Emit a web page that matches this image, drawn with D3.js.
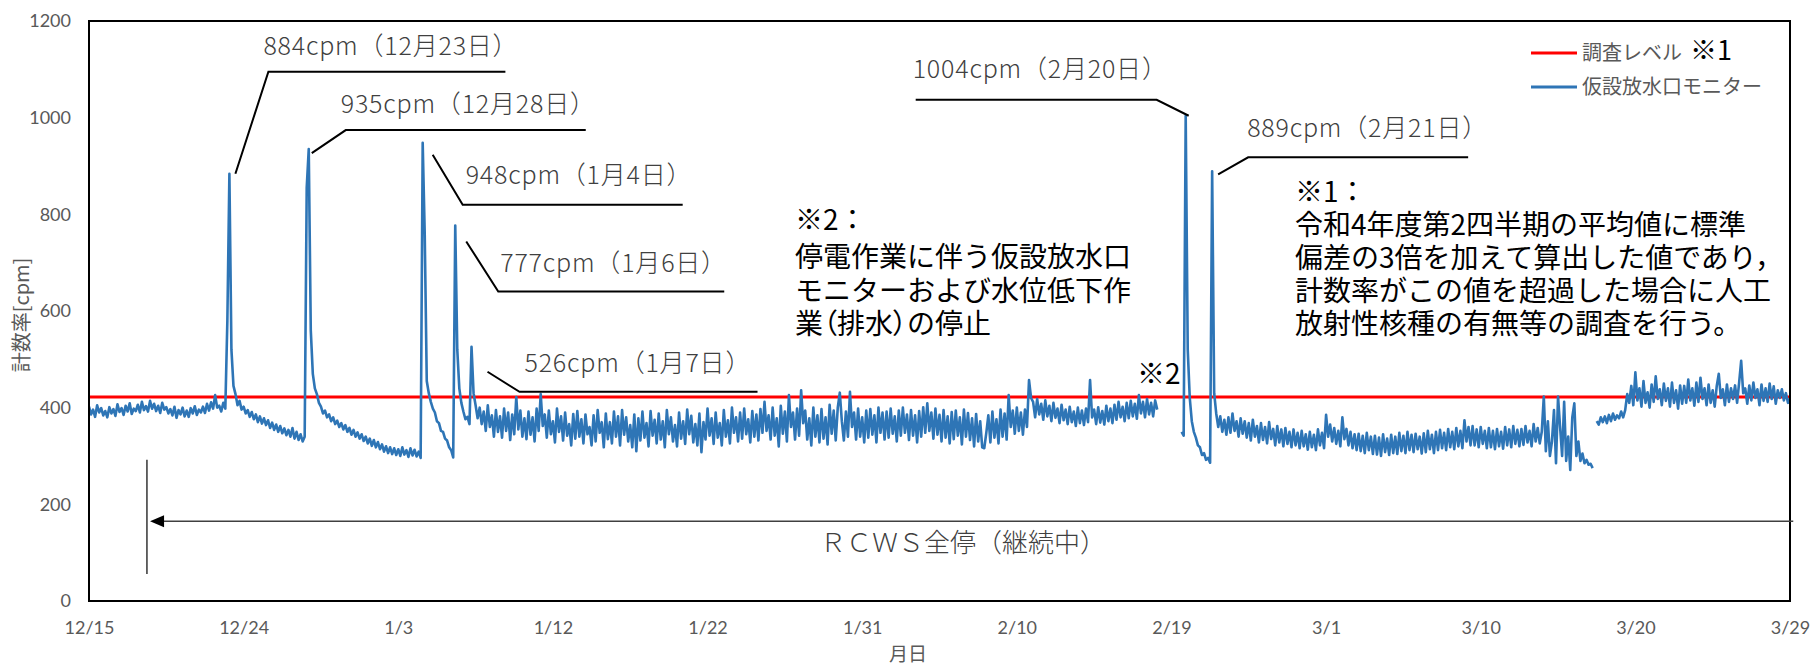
<!DOCTYPE html>
<html lang="ja">
<head>
<meta charset="utf-8">
<script src="https://cdn.jsdelivr.net/npm/d3@7"></script>
<style>
  html, body { margin: 0; padding: 0; background: #fff; }
  svg { display: block; }
  .palt { font-feature-settings: "palt" 1; }
</style>
</head>
<body>
<svg id="chart" width="1812" height="668"></svg>
<script>
// ---- data ---------------------------------------------------------------
const seriesName = "仮設放水口モニター";
const levelName = "調査レベル";
const levelNote = "※1";
const investigationLevel = 422;            // cpm
const startDate = Date.UTC(2022, 11, 15);  // 12/15 00:00
const sampleHours = 3;                     // spacing of monitorCpm samples

// counting rate of the temporary outlet monitor, 8 samples per day (null = no data)
const monitorCpm = [
  402, 386, 396, 381, 405, 390, 399, 384,   // 12/15
  393, 380, 401, 388, 397, 383, 407, 391,
  399, 385, 404, 392, 409, 387, 398, 393,
  406, 390, 412, 395, 403, 392, 414, 398,
  408, 393, 404, 389, 410, 396, 401, 388,
  397, 384, 402, 379, 395, 386, 400, 382,   // 12/20
  394, 381, 399, 388, 403, 385, 396, 390,
  402, 389, 408, 394, 411, 398, 426, 400,
  404, 392, 410, 398, 580, 884, 520, 445,   // 12/23
  428, 405, 414, 396, 402, 388, 395, 381,
  391, 376, 386, 370, 382, 367, 378, 364,   // 12/25
  374, 358, 369, 354, 365, 350, 362, 347,
  357, 343, 354, 340, 358, 336, 350, 333,
  345, 330, 340, 855, 935, 560, 470, 440,   // 12/28
  428, 410, 402, 388, 394, 380, 386, 372,
  380, 366, 373, 360, 368, 355, 364, 350,   // 12/30
  358, 344, 354, 340, 349, 336, 345, 331,
  340, 326, 336, 321, 333, 318, 329, 314,   // 1/1
  324, 309, 320, 306, 318, 304, 316, 302,
  314, 300, 318, 303, 312, 298, 316, 301,
  313, 299, 309, 296, 948, 760, 455, 430,   // 1/4
  412, 398, 390, 372, 368, 352, 350, 336,
  332, 318, 312, 297, 777, 520, 440, 410,   // 1/6
  392, 376, 381, 366, 526, 430, 405, 378,   // 1/7
  400, 366, 392, 352, 405, 360, 384, 340,
  395, 350, 382, 338, 398, 352, 390, 333,
  386, 345, 422, 355, 394, 340, 378, 335,   // 1/10
  392, 344, 380, 330, 398, 352, 428, 362,
  386, 338, 394, 345, 372, 328, 398, 350,
  382, 332, 390, 342, 366, 322, 387, 336,
  393, 340, 376, 326, 386, 345, 360, 322,
  384, 330, 395, 348, 370, 318, 388, 335,   // 1/15
  370, 326, 392, 340, 382, 322, 395, 344,
  380, 330, 364, 318, 386, 310, 378, 332,
  392, 338, 368, 320, 393, 342, 375, 326,
  388, 334, 372, 318, 395, 345, 380, 330,
  364, 320, 390, 336, 372, 325, 396, 345,   // 1/20
  383, 328, 366, 322, 388, 308, 370, 334,
  398, 342, 378, 325, 390, 338, 368, 322,
  395, 340, 374, 326, 400, 348, 380, 330,
  390, 336, 398, 345, 376, 328, 393, 340,
  386, 332, 397, 348, 412, 352, 384, 334,   // 1/25
  400, 342, 378, 320, 404, 346, 392, 330,
  426, 360, 390, 334, 398, 342, 436, 368,
  394, 334, 378, 322, 400, 340, 384, 328,
  397, 336, 380, 324, 406, 346, 394, 332,
  400, 431, 372, 332, 392, 340, 433, 360,   // 1/30
  390, 334, 398, 340, 380, 328, 394, 338,
  397, 344, 384, 328, 400, 348, 390, 334,   // 2/1
  392, 338, 398, 346, 382, 330, 394, 342,
  400, 348, 386, 333, 395, 342, 384, 328,
  393, 340, 401, 348, 409, 352, 390, 336,
  398, 344, 385, 330, 395, 338, 382, 326,   // 2/5
  391, 335, 394, 342, 380, 324, 396, 340,
  389, 333, 378, 320, 387, 330, 372, 318,
  316, 348, 384, 328, 392, 338, 376, 326,
  396, 340, 388, 334, 426, 360, 394, 346,
  400, 352, 390, 344, 396, 360, 457, 420,   // 2/10
  412, 380, 418, 386, 408, 375, 415, 382,
  404, 372, 410, 379, 398, 368, 406, 374,
  396, 366, 402, 370, 392, 362, 400, 368,
  394, 364, 398, 370, 457, 380, 396, 366,
  401, 369, 393, 365, 404, 372, 398, 368,   // 2/15
  406, 375, 412, 380, 402, 372, 410, 378,
  414, 382, 408, 377, 426, 388, 412, 380,
  418, 386, 410, 382, 415, 396, null, null,
  null, null, null, null, null, null, null, null,
  null, 350, 342, 1004, 520, 420, 372, 350, // 2/20
  338, 322, 318, 302, 306, 292, 296, 286,
  889, 430, 388, 360, 382, 350, 375, 344,   // 2/22 00:00 (2/21 peak)
  380, 348, 388, 352, 372, 340, 378, 346,
  372, 338, 368, 332, 375, 340, 362, 328,
  368, 333, 360, 326, 370, 335, 356, 322,   // 2/25
  362, 328, 355, 320, 358, 325, 350, 318,
  355, 322, 348, 316, 352, 320, 345, 313,
  350, 318, 344, 312, 355, 322, 348, 316,   // 2/28
  385, 340, 365, 330, 358, 325, 352, 320,   // 3/1
  380, 335, 356, 322, 350, 316, 345, 312,
  346, 310, 342, 306, 348, 312, 340, 304,
  342, 303, 338, 300, 345, 308, 336, 302,
  344, 306, 340, 304, 348, 310, 342, 306,   // 3/5
  350, 312, 344, 308, 346, 314, 340, 305,
  347, 308, 352, 314, 344, 306, 350, 312,
  354, 316, 348, 312, 356, 318, 350, 314,
  358, 320, 352, 316, 374, 330, 360, 322,
  362, 322, 355, 318, 360, 325, 352, 316,   // 3/10
  358, 318, 352, 314, 356, 320, 350, 315,
  360, 322, 355, 318, 362, 325, 354, 320,
  356, 323, 362, 328, 352, 320, 366, 330,
  358, 326, 350, 423, 310, 372, 300, 330,
  395, 285, 423, 360, 300, 412, 290, 340,   // 3/15
  271, 380, 409, 300, 330, 290, 305, 285,
  292, 282, 284, 275, null, 372, 365, 380,
  370, 382, 368, 385, 372, 388, 375, 384,
  378, 392, 380, 395, 428, 410, 445, 405,
  473, 415, 440, 402, 455, 410, 432, 400,   // 3/20
  448, 412, 465, 418, 438, 405, 450, 414,
  440, 402, 452, 410, 436, 398, 446, 408,
  445, 410, 458, 415, 440, 404, 452, 412,
  462, 418, 440, 405, 448, 410, 436, 402,
  445, 470, 420, 438, 405, 448, 412, 440,   // 3/25
  418, 446, 410, 452, 497, 430, 440, 408,
  446, 415, 452, 420, 438, 405, 448, 414,
  440, 412, 450, 418, 444, 408, 436, 420,
  438, 415, 430, 410, 419                   // 3/29
];

// axes
const yTicks = [0, 200, 400, 600, 800, 1000, 1200];
const xAxisEndDays = 104.5;
const xTickDays = [0, 9.5, 19, 28.5, 38, 47.5, 57, 66.5, 76, 85.5, 95, 104.5];
const xTickLabels = ["12/15", "12/24", "1/3", "1/12", "1/22", "1/31", "2/10", "2/19", "3/1", "3/10", "3/20", "3/29"];
const yTitle = "計数率[cpm]";
const xTitle = "月日";

// peak call-outs: sample index and date text
const calloutIndex = [69, 108, 164, 180, 188, 539, 552];
const calloutDates = ["12月23日", "12月28日", "1月4日", "1月6日", "1月7日", "2月20日", "2月21日"];

// RCWS stop period (days from 12/15, cpm level of the arrow)
const rcwsStopDay = 3.56;
const rcwsArrow = { fromDay: 104.7, toDay: 3.75, level: 165 };
const rcwsMarker = { low: 56, high: 292 };
const rcwsText = "ＲＣＷＳ全停（継続中）";
const rcwsTextAt = { day: 53.7, level: 126 };

const note1Lines = ["※1：", "令和4年度第2四半期の平均値に標準", "偏差の3倍を加えて算出した値であり，", "計数率がこの値を超過した場合に人工", "放射性核種の有無等の調査を行う。"];
const note2Lines = ["※2：", "停電作業に伴う仮設放水口", "モニターおよび水位低下作", "業（排水）の停止"];
const note2Mark = "※2";

// ---- layout -------------------------------------------------------------
const plot = { left: 89, top: 21, right: 1790, bottom: 601 };
const DAY = 86400000;
const colors = { level: "#FF0000", series: "#2E75B6", axisText: "#595959", label: "#404040" };
const latin = "Lato, 'Liberation Sans', sans-serif";
const cjk = "'Noto Sans CJK JP', 'Noto Sans', sans-serif";

// leader polyline offsets [start, elbow, end] and label anchor, relative to each peak
const calloutLayout = [
  { leader: [[6, 0], [39, -102], [276, -102]], text: [34, -130] },
  { leader: [[3, 4], [37, -19], [277, -19]], text: [32, -47] },
  { leader: [[10, 12], [40, 62], [260, 62]], text: [43, 30] },
  { leader: [[11, 16], [43, 66], [269, 66]], text: [45, 36] },
  { leader: [[16, 25], [48, 45], [286, 45]], text: [53, 14] },
  { leader: [[3, 0], [-29, -16], [-270, -16]], text: [-273, -49] },
  { leader: [[6, 3], [36, -14], [256, -14]], text: [35, -45] }
];

const svg = d3.select("#chart");
const dayDate = d => new Date(startDate + d * DAY);

const x = d3.scaleUtc()
  .domain([dayDate(0), dayDate(xAxisEndDays)])
  .range([plot.left, plot.right]);
const y = d3.scaleLinear()
  .domain([0, 1200])
  .range([plot.bottom, plot.top]);

const samples = monitorCpm.map((v, i) => ({ t: new Date(startDate + i * sampleHours * 3600000), v }));

svg.append("defs").append("clipPath").attr("id", "plotClip")
  .append("rect")
  .attr("x", plot.left).attr("y", plot.top)
  .attr("width", plot.right - plot.left).attr("height", plot.bottom - plot.top);

// ---- axes -----------------------------------------------------------------
const yAxis = svg.append("g")
  .attr("transform", `translate(${plot.left},0)`)
  .call(d3.axisLeft(y).tickValues(yTicks).tickFormat(d3.format("d")).tickSize(0).tickPadding(18));
yAxis.select(".domain").remove();
yAxis.selectAll("text")
  .attr("fill", colors.axisText)
  .style("font-family", latin)
  .style("font-size", "18px");

const xAxis = svg.append("g")
  .attr("transform", `translate(0,${plot.bottom})`)
  .call(d3.axisBottom(x)
    .tickValues(xTickDays.map(dayDate))
    .tickFormat((d, i) => xTickLabels[i])
    .tickSize(0));
xAxis.select(".domain").remove();
xAxis.selectAll("text")
  .attr("y", 27).attr("dy", "0.35em")
  .attr("fill", colors.axisText)
  .style("font-family", latin)
  .style("font-size", "18px");

svg.append("text")
  .attr("transform", `translate(20,${(plot.top + plot.bottom) / 2 + 4}) rotate(-90)`)
  .attr("text-anchor", "middle").attr("dominant-baseline", "central")
  .attr("fill", colors.axisText)
  .style("font-family", cjk).style("font-size", "20px")
  .text(yTitle);

svg.append("text")
  .attr("x", 908).attr("y", 652)
  .attr("text-anchor", "middle").attr("dominant-baseline", "central")
  .attr("fill", colors.axisText)
  .style("font-family", cjk).style("font-size", "19px")
  .text(xTitle);

// ---- series -----------------------------------------------------------------
const plotArea = svg.append("g").attr("clip-path", "url(#plotClip)");

plotArea.append("line")
  .attr("x1", x(dayDate(0))).attr("x2", x(dayDate(xAxisEndDays)))
  .attr("y1", y(investigationLevel)).attr("y2", y(investigationLevel))
  .attr("stroke", colors.level).attr("stroke-width", 3);

plotArea.append("path")
  .datum(samples)
  .attr("fill", "none")
  .attr("stroke", colors.series)
  .attr("stroke-width", 2.6)
  .attr("stroke-linejoin", "round")
  .attr("d", d3.line()
    .defined(d => d.v != null)
    .x(d => x(d.t))
    .y(d => y(d.v)));

// plot frame
svg.append("rect")
  .attr("x", plot.left).attr("y", plot.top)
  .attr("width", plot.right - plot.left).attr("height", plot.bottom - plot.top)
  .attr("fill", "none").attr("stroke", "#000").attr("stroke-width", 2);

// ---- RCWS stop arrow --------------------------------------------------------
svg.append("line")
  .attr("x1", x(dayDate(rcwsStopDay))).attr("x2", x(dayDate(rcwsStopDay)))
  .attr("y1", y(rcwsMarker.low)).attr("y2", y(rcwsMarker.high))
  .attr("stroke", "#000").attr("stroke-width", 1.2);

const ax1 = x(dayDate(rcwsArrow.fromDay)), ax2 = x(dayDate(rcwsArrow.toDay)), ay = y(rcwsArrow.level);
svg.append("line")
  .attr("x1", ax1).attr("x2", ax2 + 10).attr("y1", ay).attr("y2", ay)
  .attr("stroke", "#404040").attr("stroke-width", 1.5);
svg.append("path")
  .attr("d", `M${ax2},${ay} L${ax2 + 14},${ay - 6} L${ax2 + 14},${ay + 6} Z`)
  .attr("fill", "#000");

svg.append("text")
  .attr("x", x(dayDate(rcwsTextAt.day))).attr("y", y(rcwsTextAt.level))
  .attr("text-anchor", "middle").attr("dominant-baseline", "central")
  .attr("fill", colors.label)
  .style("font-family", cjk).style("font-size", "26px").style("font-weight", 300)
  .text(rcwsText);

// ---- peak call-outs ---------------------------------------------------------
calloutIndex.forEach((idx, k) => {
  const s = samples[idx];
  const px = x(s.t), py = y(s.v);
  const lay = calloutLayout[k];
  svg.append("path")
    .attr("d", d3.line()(lay.leader.map(([dx, dy]) => [px + dx, py + dy])))
    .attr("fill", "none").attr("stroke", "#000").attr("stroke-width", 2);
  svg.append("text")
    .attr("x", px + lay.text[0]).attr("y", py + lay.text[1])
    .attr("dominant-baseline", "central")
    .attr("fill", colors.label)
    .style("font-family", cjk).style("font-size", "25px").style("font-weight", 300)
    .style("letter-spacing", "0.8px")
    .text(`${s.v}cpm（${calloutDates[k]}）`);
});

// ---- notes ----------------------------------------------------------------
// parentheses get proportional widths, as in the original typesetting
function setNoteLine(sel, str) {
  str.split(/([（）])/).filter(p => p.length).forEach(part => {
    const ts = sel.append("tspan").text(part);
    if (part === "（" || part === "）") ts.attr("class", "palt");
  });
}
function noteBlock(lines, left, tops) {
  const g = svg.append("g");
  lines.forEach((line, i) => {
    const t = g.append("text")
      .attr("x", left).attr("y", tops[i])
      .attr("dominant-baseline", "central")
      .attr("fill", "#000")
      .style("font-family", cjk).style("font-size", "28px");
    setNoteLine(t, line);
  });
}
noteBlock(note2Lines, 795, [218, 255, 289, 322]);
noteBlock(note1Lines, 1295, [190, 223, 256, 289, 322]);

svg.append("text")
  .attr("x", 1137).attr("y", 372)
  .attr("dominant-baseline", "central")
  .attr("fill", "#000")
  .style("font-family", cjk).style("font-size", "28px")
  .text(note2Mark);

// ---- legend -----------------------------------------------------------------
const legendItems = [
  { name: levelName, color: colors.level, note: levelNote },
  { name: seriesName, color: colors.series, note: null }
];
const legend = svg.append("g");
legendItems.forEach((item, i) => {
  const ly = 53 + i * 34;
  legend.append("line")
    .attr("x1", 1531).attr("x2", 1577).attr("y1", ly).attr("y2", ly)
    .attr("stroke", item.color).attr("stroke-width", 3);
  const t = legend.append("text")
    .attr("x", 1582).attr("y", ly + 7)
    .attr("fill", colors.axisText)
    .style("font-family", cjk).style("font-size", "20px");
  t.append("tspan").text(item.name);
  if (item.note) {
    t.append("tspan").attr("dx", 8).attr("fill", "#000")
      .style("font-size", "27px").text(item.note);
  }
});
</script>
</body>
</html>
